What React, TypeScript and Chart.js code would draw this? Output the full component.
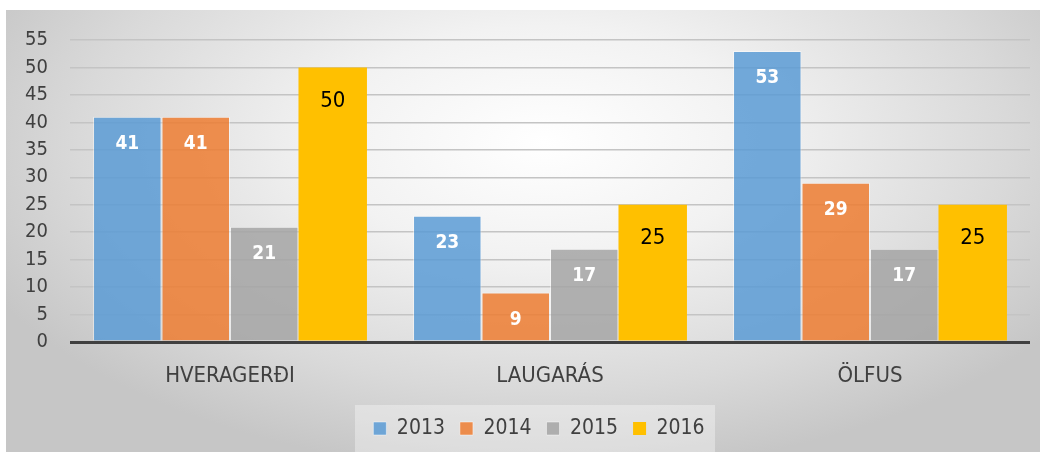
import React, { useEffect, useRef } from "react";
import { Chart, registerables } from "chart.js";

Chart.register(...registerables);

const categories = ["HVERAGERÐI", "LAUGARÁS", "ÖLFUS"];
const seriesNames = ["2013", "2014", "2015", "2016"];
const values2013 = [41, 23, 53];
const values2014 = [41, 9, 29];
const values2015 = [21, 17, 17];
const values2016 = [50, 25, 25];
const yTicks = [0, 5, 10, 15, 20, 25, 30, 35, 40, 45, 50, 55];

const FONT = "'DejaVu Sans Condensed', 'Liberation Sans Narrow', sans-serif";

const legendShiftPlugin = {
  id: "legendShift",
  afterLayout(chart: any) {
    const lg = chart.legend;
    if (!lg) return;
    lg.left += 21;
    lg.right += 21;
  },
};

const legendBgPlugin = {
  id: "legendBg",
  beforeDraw(chart: any) {
    const ctx = chart.ctx;
    ctx.save();
    ctx.fillStyle = "rgba(255,255,255,0.35)";
    ctx.fillRect(349, 395, 360, chart.height - 395);
    ctx.restore();
  },
};

const labelsPlugin = {
  id: "barLabels",
  afterDatasetsDraw(chart: any) {
    const ctx = chart.ctx;
    ctx.save();
    ctx.textAlign = "center";
    ctx.textBaseline = "middle";
    chart.data.datasets.forEach((ds: any, di: number) => {
      const meta = chart.getDatasetMeta(di);
      meta.data.forEach((el: any, i: number) => {
        const v = ds.data[i];
        if (di === 3) {
          ctx.fillStyle = "#000000";
          ctx.font = `400 22px ${FONT}`;
          ctx.fillText(String(v), el.x, el.y + 34);
        } else {
          ctx.fillStyle = "#ffffff";
          ctx.font = `700 19px ${FONT}`;
          ctx.fillText(String(v), el.x, el.y + 27);
        }
      });
    });
    ctx.restore();
  },
};

export default function App() {
  const ref = useRef<HTMLCanvasElement | null>(null);
  useEffect(() => {
    if (!ref.current) return;
    const colors = [
      "rgba(91,155,213,0.85)",
      "rgba(237,125,49,0.85)",
      "rgba(165,165,165,0.85)",
      "#ffc000",
    ];
    const all = [values2013, values2014, values2015, values2016];
    const chart = new Chart(ref.current, {
      type: "bar",
      data: {
        labels: categories,
        datasets: seriesNames.map((n, i) => ({
          label: n,
          data: all[i],
          backgroundColor: colors[i],
          borderColor: i === 3 ? "#ffc000" : "rgba(255,255,255,0.45)",
          borderWidth: i === 3 ? 0 : 1,
          categoryPercentage: 0.856,
          barPercentage: 1,
        })),
      },
      options: {
        animation: false,
        responsive: false,
        maintainAspectRatio: false,
        layout: { padding: { left: 0, right: 10, top: 30, bottom: 3 } },
        plugins: {
          tooltip: { enabled: false },
          legend: {
            position: "bottom",
            labels: {
              boxWidth: 13,
              boxHeight: 13,
              padding: 15,
              color: "#404040",
              font: { family: FONT, size: 21 },
            },
          },
        },
        scales: {
          x: {
            grid: { display: false, drawTicks: false },
            border: { display: false },
            afterFit(scale: any) {
              scale.height = 61;
              scale.paddingLeft = 0;
              scale.paddingRight = 0;
            },
            ticks: {
              color: "#404040",
              font: { family: FONT, size: 22 },
              padding: 21,
            },
          },
          y: {
            min: 0,
            max: 55,
            afterBuildTicks(axis: any) {
              axis.ticks = yTicks.map((v) => ({ value: v }));
            },
            afterFit(scale: any) {
              scale.width = 64;
              scale.paddingTop = 0;
              scale.paddingBottom = 0;
            },
            border: { display: false },
            grid: {
              drawTicks: false,
              color: (c: any) => (c.tick && c.tick.value === 0 ? "#404040" : "#c4c4c4"),
              lineWidth: (c: any) => (c.tick && c.tick.value === 0 ? 3 : 1.5),
            },
            ticks: {
              autoSkip: false,
              color: "#404040",
              font: { family: FONT, size: 20 },
              padding: 22,
            },
          },
        },
      },
      plugins: [legendShiftPlugin, legendBgPlugin, labelsPlugin],
    } as any);
    return () => chart.destroy();
  }, []);
  return (
    <div
      style={{
        position: "absolute",
        left: 6,
        top: 10,
        width: 1034,
        height: 442,
        background:
          "radial-gradient(ellipse 60% 75% at 52% 30%, #ffffff 0%, #f2f2f2 35%, #d9d9d9 75%, #c6c6c6 100%)",
      }}
    >
      <canvas ref={ref} width={1034} height={442} style={{ display: "block" }} />
    </div>
  );
}
